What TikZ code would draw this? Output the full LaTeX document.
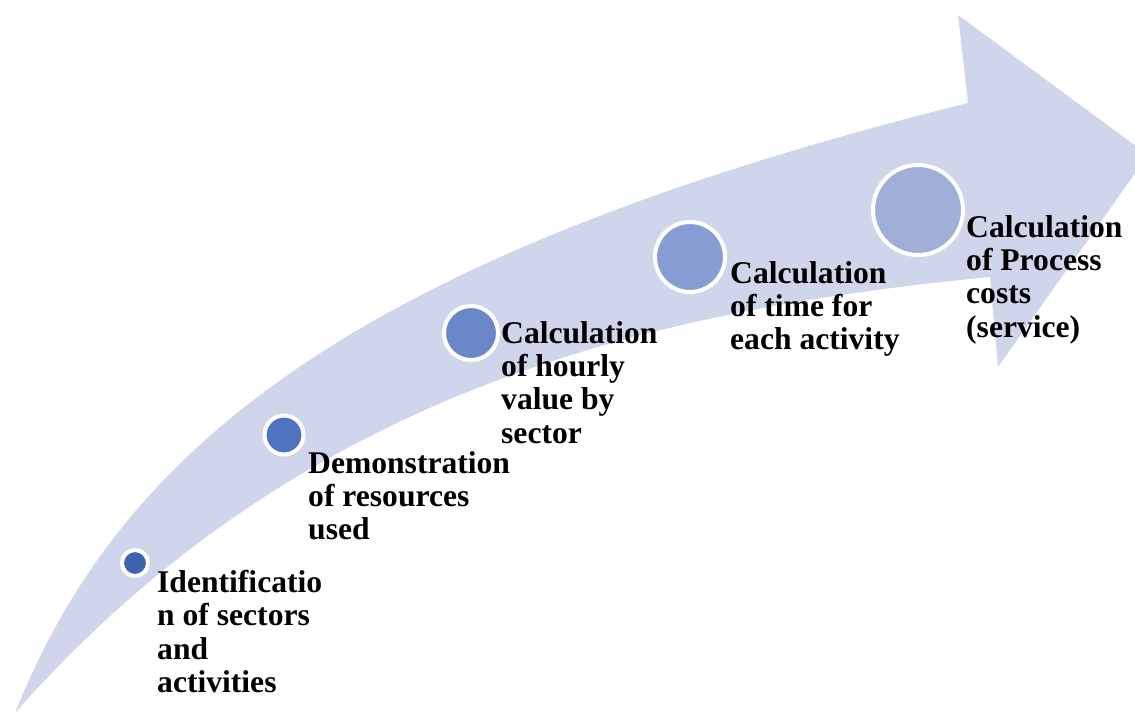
\documentclass[tikz,border=0pt]{standalone}
\usepackage{fontspec}
\setmainfont{Liberation Serif}
\definecolor{arrowfill}{HTML}{CFD5EA}
\definecolor{dotA}{HTML}{3F64AE}
\definecolor{dotB}{HTML}{4E74C0}
\definecolor{dotC}{HTML}{6A88C8}
\definecolor{dotD}{HTML}{889DD3}
\definecolor{dotE}{HTML}{A0AFD8}
\begin{document}
\begin{tikzpicture}[x=1pt,y=-1pt,
  lbl/.style={anchor=north west, inner sep=0pt, align=left,
    font=\fontsize{31.6}{33.3}\selectfont\bfseries},
  dot/.style={circle, draw=white, line width=4pt, inner sep=0pt}]
\useasboundingbox (0,0) rectangle (1135,715);
\clip (0,0) rectangle (1135,715);
\fill[arrowfill]
  plot[domain=15:968, samples=120, smooth] (\x, {713-264.1*(ln(\x+90)-4.654)})
  -- (958,15) -- (1148,155) -- (998,367) -- (990,277)
  .. controls (650,310) and (300,390) .. (15,713)
  -- cycle;
\node[dot, fill=dotA, minimum size=26] (d1) at (135,563) {};
\node[dot, fill=dotB, minimum size=39] (d2) at (284,435) {};
\node[dot, fill=dotC, minimum size=54] (d3) at (471,333) {};
\node[dot, fill=dotD, minimum size=70] (d4) at (690,257) {};
\node[dot, fill=dotE, minimum size=90] (d5) at (918,210) {};
\node[lbl] (t1) at (157,570) {Identificatio\\n of sectors\\and\\activities};
\node[lbl] (t2) at (308,451) {Demonstration\\of resources\\used};
\node[lbl] (t3) at (501,321) {Calculation\\of hourly\\value by\\sector};
\node[lbl] (t4) at (730,261) {Calculation\\of time for\\each activity};
\node[lbl] (t5) at (966,215) {Calculation\\of Process\\costs\\(service)};
\end{tikzpicture}
\end{document}
